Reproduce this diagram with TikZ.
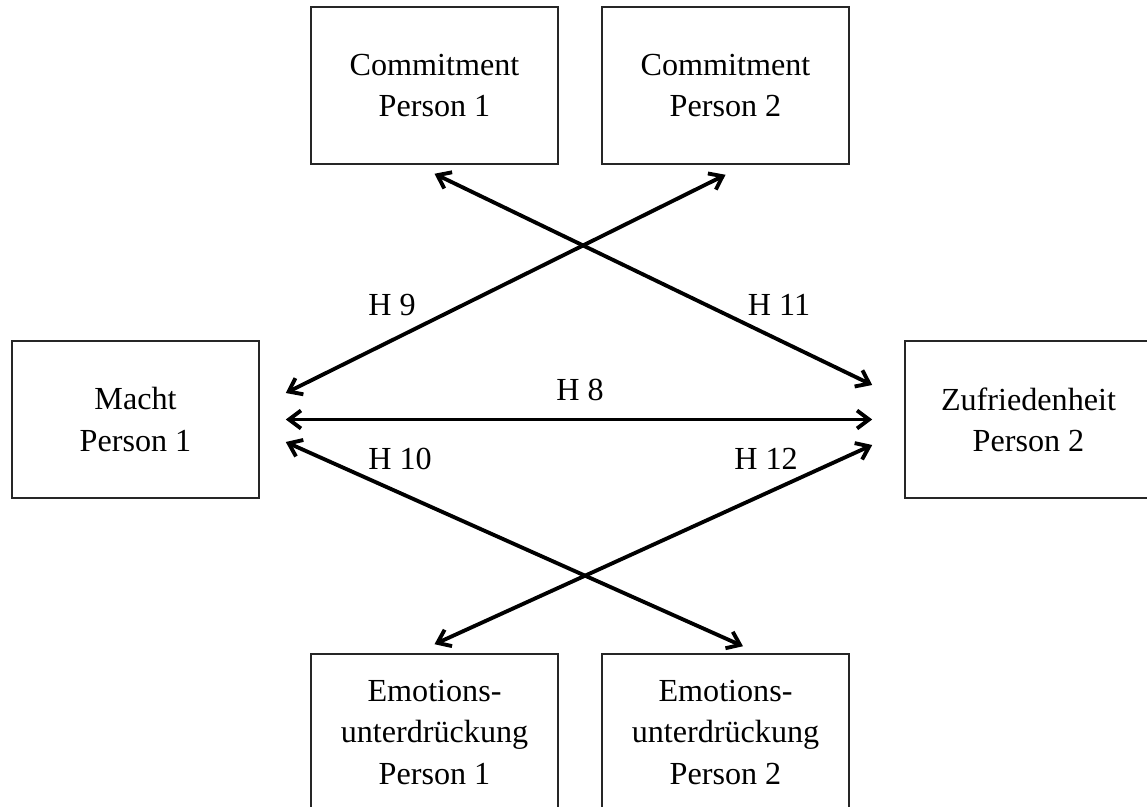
\documentclass[tikz,border=0pt]{standalone}
\usepackage{fontspec}
\setmainfont{Liberation Serif}
\usetikzlibrary{arrows.meta}
\tikzset{var/.style={rectangle,draw=black!85,line width=0.9pt,inner sep=0pt,
minimum width=4.94cm, minimum height=3.14cm, align=center,
font=\fontsize{18.3}{23.5}\selectfont},
hyp/.style={<->, line width=2.2pt},
lbl/.style={inner sep=0pt, font=\fontsize{18.3}{22}\selectfont},
>={Straight Barb[length=2.4mm,width=3.6mm]}}

\begin{document}
\begin{tikzpicture}[x=0.02cm,y=-0.02cm]
  \useasboundingbox (0,0) rectangle (1147,807);
  \node (comm1) [var] at (434.5,85.5) {Commitment\\Person 1};
  \node (comm2) [var] at (725.5,85.5) {Commitment\\Person 2};
  \node (macht) [var] at (135.5,419.5) {Macht\\Person 1};
  \node (zufr) [var] at (1028.5,419.5) {Zufriedenheit\\Person 2};
  \node (emo1) [var] at (434.5,732.5) {Emotions-\\unterdrückung\\Person 1};
  \node (emo2) [var] at (725.5,732.5) {Emotions-\\unterdrückung\\Person 2};
  % hypotheses
  \draw [hyp] ([shift={(26,0)}]macht.east) -- ([shift={(-32,0)}]zufr.west);
  \draw [hyp] ([shift={(26,-26.5)}]macht.east) -- ([shift={(0,10)}]comm2.south);
  \draw [hyp] ([shift={(0,9)}]comm1.south) -- ([shift={(-32,-34.5)}]zufr.west);
  \draw [hyp] ([shift={(26,22.5)}]macht.east) -- ([shift={(17.5,-7)}]emo2.north);
  \draw [hyp] ([shift={(-32,25.5)}]zufr.west) -- ([shift={(0,-9)}]emo1.north);
  \node (h8) [lbl] at (580,390) {H 8};
  \node (h9) [lbl] at (392,305) {H 9};
  \node (h10) [lbl] at (400,459) {H 10};
  \node (h11) [lbl] at (779,305) {H 11};
  \node (h12) [lbl] at (766,459) {H 12};
\end{tikzpicture}
\end{document}
